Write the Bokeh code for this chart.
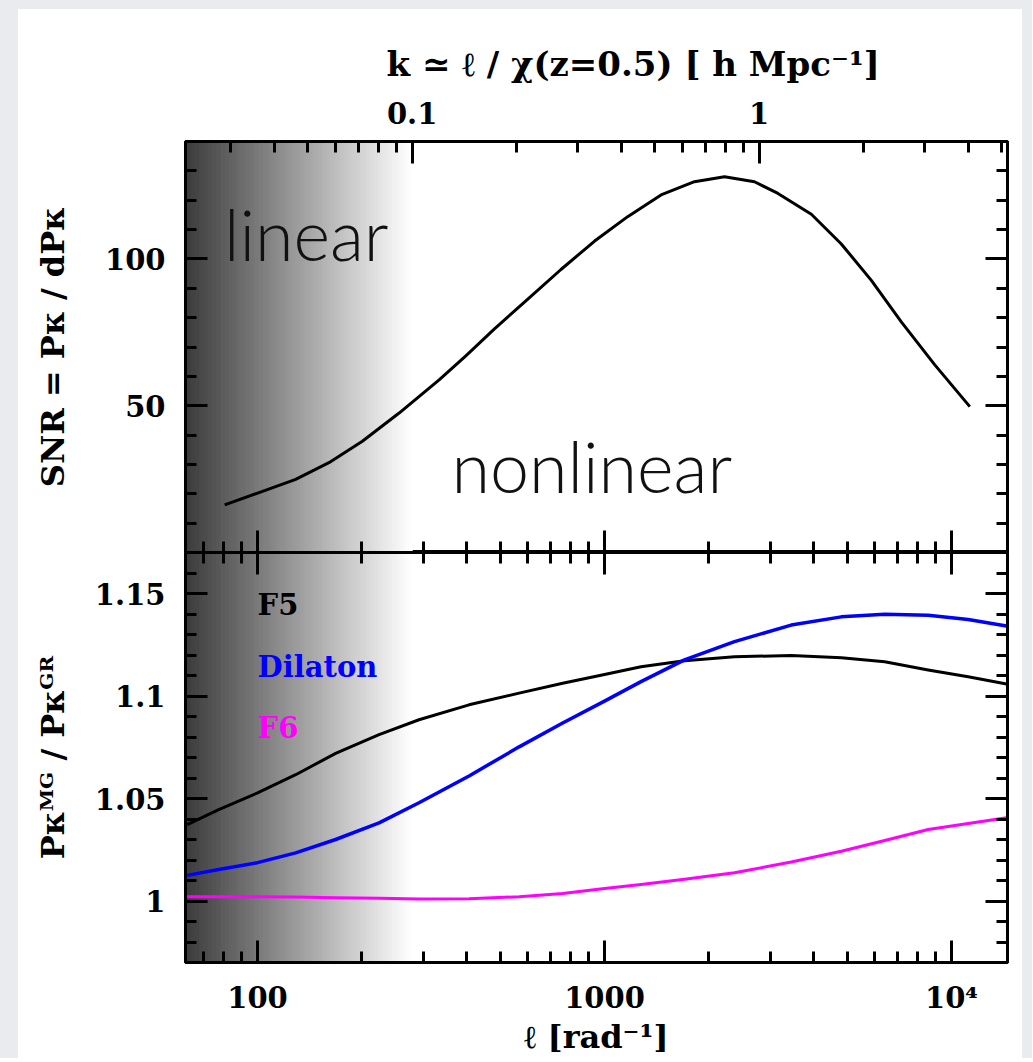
import numpy as np
from bokeh.plotting import figure
from bokeh.models import Range1d, LogAxis, LinearAxis, FixedTicker, Label, Spacer, LogScale, Title
from bokeh.layouts import column, row
from bokeh.embed import file_html
from bokeh.resources import INLINE

# ---------------- data ----------------
ell_snr = [80.4, 101, 128.8, 160.6, 200.5, 255.9, 333.7, 398.4, 480.9, 600, 749, 934.5,
           1166, 1455, 1816, 2217, 2705, 3161, 3945, 4813, 5874, 7175, 8951, 11293]
snr = [16.2, 20.4, 24.9, 30.6, 37.9, 47.5, 58.8, 67.0, 76.1, 86.2, 96.4, 106.0,
       114.4, 121.8, 126.3, 128.0, 126.3, 122.3, 115.2, 105.1, 92.7, 78.5, 63.9, 49.7]

ell_ratio = [62.7, 77.3, 100, 128.8, 167.9, 224, 292, 407, 567.5, 757.5, 1000,
             1274, 1700, 2369, 3451, 4813, 6420, 8565, 11170, 14410]
ratio_f5 = [1.0373, 1.0446, 1.0527, 1.0616, 1.0720, 1.0812, 1.0884, 1.0957, 1.1014, 1.1062, 1.1105,
            1.1143, 1.1172, 1.1192, 1.1197, 1.1187, 1.1167, 1.1127, 1.1094, 1.1059]
ratio_dilaton = [1.0125, 1.0154, 1.0187, 1.0235, 1.0300, 1.0381, 1.0479, 1.0610, 1.0752, 1.0868, 1.0975,
                 1.1070, 1.1176, 1.1265, 1.1346, 1.1386, 1.1399, 1.1394, 1.1373, 1.1341]
ratio_f6 = [1.0021, 1.0021, 1.0021, 1.0019, 1.0016, 1.0013, 1.0010, 1.0011, 1.0021, 1.0037, 1.0061,
            1.0081, 1.0106, 1.0138, 1.0190, 1.0243, 1.0295, 1.0349, 1.0378, 1.0406]

series_names = ["F5", "Dilaton", "F6"]
series_colors = ["black", "#0000ff", "#ff00ff"]

X_START, X_END = 62, 14500
CHI = 2790          # chi(z=0.5) used for k = l / chi
SNR_RANGE = (0, 140)
RATIO_RANGE = (0.97, 1.17)

ell_major = [100, 1000, 10000]
ell_minor = [70, 80, 90] + [i * 100 for i in range(2, 10)] + [i * 1000 for i in range(2, 10)]
ell_labels = {100: "100", 1000: "1000", 10000: "10⁴"}
k_major = [0.1, 1]
k_minor = [i / 100 for i in range(3, 10)] + [i / 10 for i in range(2, 10)] + [2, 3, 4, 5]
k_labels = {0.1: "0.1", 1: "1"}
k_title = "k ≃ ℓ / χ(z=0.5) [ h Mpc⁻¹]"
snr_major = [50, 100]
snr_minor = [10, 20, 30, 40, 60, 70, 80, 90, 110, 120, 130]
ratio_major = [1.0, 1.05, 1.1, 1.15]
ratio_minor = [0.98, 0.99, 1.01, 1.02, 1.03, 1.04, 1.06, 1.07, 1.08, 1.09,
               1.11, 1.12, 1.13, 1.14, 1.16]
ratio_labels = {1.0: "1", 1.05: "1.05", 1.1: "1.1", 1.15: "1.15"}

SERIF = "DejaVu Serif"
LIGHT = "Lato Light"
LABEL_SIZE = "29px"
TITLE_SIZE = "32px"


def style_axis(ax, show_labels):
    ax.axis_line_color = "black"
    ax.axis_line_width = 3
    ax.major_tick_in = 22
    ax.major_tick_out = 0
    ax.minor_tick_in = 11
    ax.minor_tick_out = 0
    ax.major_tick_line_width = 3
    ax.minor_tick_line_width = 3
    ax.major_tick_line_color = "black"
    ax.minor_tick_line_color = "black"
    if show_labels:
        ax.major_label_text_font = SERIF
        ax.major_label_text_font_style = "bold"
        ax.major_label_text_font_size = LABEL_SIZE
        ax.major_label_text_color = "black"
        ax.axis_label_text_font = SERIF
        ax.axis_label_text_font_style = "bold"
        ax.axis_label_text_font_size = TITLE_SIZE
        ax.axis_label_text_color = "black"
    else:
        ax.major_label_text_font_size = "1px"
        ax.major_label_text_color = None
        ax.major_label_standoff = 0


def shade(p, y0, y1):
    n = 200
    edges = np.logspace(np.log10(X_START), np.log10(0.1 * CHI), n + 1)
    levels = np.linspace(60, 255, n)
    colors = ["#%02x%02x%02x" % (int(g), int(g), int(g)) for g in levels]
    p.quad(left=edges[:-1], right=edges[1:], bottom=y0, top=y1,
           fill_color=colors, line_color=colors, line_width=1)


# ---------------- top panel ----------------
top = figure(width=1004, height=543, x_axis_type="log",
             x_range=Range1d(X_START, X_END), y_range=Range1d(*SNR_RANGE),
             x_axis_location=None, y_axis_location=None,
             output_backend="svg", toolbar_location=None,
             min_border_left=167, min_border_right=15, min_border_top=132, min_border_bottom=0,
             background_fill_color="white", border_fill_color="white")
top.grid.visible = False
top.outline_line_color = "black"
top.outline_line_width = 3
top.extra_x_ranges = {"k": Range1d(X_START / CHI, X_END / CHI)}
top.extra_x_scales = {"k": LogScale()}

# title of the k axis (plot title, sits above the k axis, right of centre like the reference)
top.title = Title(text=k_title, align="left", offset=201, standoff=30,
                  text_font=SERIF, text_font_style="bold", text_font_size="34px",
                  text_color="black")
top.title_location = "above"

shade(top, SNR_RANGE[0], SNR_RANGE[1])
top.line(ell_snr, snr, line_color="black", line_width=3, line_join="round")

ax = LinearAxis(ticker=FixedTicker(ticks=snr_major, minor_ticks=snr_minor),
                axis_label="SNR = Pκ / dPκ")
style_axis(ax, True)
ax.major_label_standoff = 20
ax.axis_label_standoff = 30
top.add_layout(ax, "left")

ax = LinearAxis(ticker=FixedTicker(ticks=snr_major, minor_ticks=snr_minor))
style_axis(ax, False)
top.add_layout(ax, "right")

ax = LogAxis(ticker=FixedTicker(ticks=ell_major, minor_ticks=ell_minor))
style_axis(ax, False)
top.add_layout(ax, "below")

ax = LogAxis(x_range_name="k", ticker=FixedTicker(ticks=k_major, minor_ticks=k_minor))
style_axis(ax, True)
ax.major_label_overrides = k_labels
ax.major_label_standoff = 18
top.add_layout(ax, "above")

top.add_layout(Label(x=80, y=108.5, text="linear", text_font=LIGHT,
                     text_font_size="70px", text_color="#111111", text_baseline="alphabetic"))
top.add_layout(Label(x=362, y=29.5, text="nonlinear", text_font=LIGHT,
                     text_font_size="70px", text_color="#111111", text_baseline="alphabetic"))

# ---------------- bottom panel ----------------
bot = figure(width=1004, height=506, x_axis_type="log",
             x_range=top.x_range, y_range=Range1d(*RATIO_RANGE),
             x_axis_location=None, y_axis_location=None,
             output_backend="svg", toolbar_location=None,
             min_border_left=167, min_border_right=15, min_border_top=0, min_border_bottom=93,
             background_fill_color="white", border_fill_color="white")
bot.grid.visible = False
bot.outline_line_color = "black"
bot.outline_line_width = 3

shade(bot, RATIO_RANGE[0], RATIO_RANGE[1])
for ys, col, w in zip([ratio_f5, ratio_dilaton, ratio_f6], series_colors, [3, 3.5, 3]):
    bot.line(ell_ratio, ys, line_color=col, line_width=w, line_join="round")

for name, col, yv in zip(series_names, series_colors, [1.1443, 1.1142, 1.0845]):
    bot.add_layout(Label(x=100, y=yv, text=name, text_font=SERIF, text_font_style="bold",
                         text_font_size="29px", text_color=col, text_baseline="alphabetic"))

ax = LinearAxis(ticker=FixedTicker(ticks=ratio_major, minor_ticks=ratio_minor),
                axis_label="Pκᴹᴳ / Pκᴳᴿ")
style_axis(ax, True)
ax.major_label_overrides = ratio_labels
ax.major_label_standoff = 20
ax.axis_label_standoff = 20
bot.add_layout(ax, "left")

ax = LinearAxis(ticker=FixedTicker(ticks=ratio_major, minor_ticks=ratio_minor))
style_axis(ax, False)
bot.add_layout(ax, "right")

ax = LogAxis(ticker=FixedTicker(ticks=ell_major, minor_ticks=ell_minor))
style_axis(ax, False)
bot.add_layout(ax, "above")

ax = LogAxis(ticker=FixedTicker(ticks=ell_major, minor_ticks=ell_minor), axis_label="ℓ [rad⁻¹]")
style_axis(ax, True)
ax.major_label_overrides = ell_labels
ax.major_label_standoff = 18
ax.axis_label_standoff = 0
bot.add_layout(ax, "below")

GRAY = {"background-color": "#e9ebee"}
page = row(Spacer(width=18, height=1058, styles=GRAY),
           column(Spacer(width=1004, height=9, styles=GRAY), top, bot),
           Spacer(width=10, height=1058, styles=GRAY))

open("out.html", "w").write(file_html(page, INLINE))
